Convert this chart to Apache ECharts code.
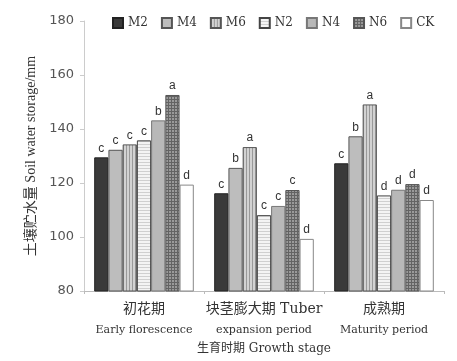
<!DOCTYPE html>
<html><head><meta charset="utf-8">
<script src="https://cdn.jsdelivr.net/npm/echarts@6/dist/echarts.min.js"></script>
<style>html,body{margin:0;padding:0;background:#fff}#c{width:457px;height:361px}</style>
</head><body><div id="c"></div>
<script>
const categories = ['初花期|Early florescence', '块茎膨大期 Tuber|expansion period', '成熟期|Maturity period'];
const seriesNames = ['M2', 'M4', 'M6', 'N2', 'N4', 'N6', 'CK'];
const M2 = [129.5, 116.2, 127.3];
const M4 = [132.3, 125.6, 137.3];
const M6 = [134.3, 133.3, 149.1];
const N2 = [135.8, 108.1, 115.4];
const N4 = [143.2, 111.5, 117.5];
const N6 = [152.6, 117.4, 119.6];
const CK = [119.4, 99.3, 113.7];
const letters = {
  M2: ['c', 'c', 'c'], M4: ['c', 'b', 'b'], M6: ['c', 'a', 'a'], N2: ['c', 'c', 'd'],
  N4: ['b', 'c', 'd'], N6: ['a', 'c', 'd'], CK: ['d', 'd', 'd']
};
const yTicks = [80, 100, 120, 140, 160, 180];
const values = { M2, M4, M6, N2, N4, N6, CK };

function pattern(bg, fg, kind) {
  const c = document.createElement('canvas');
  c.width = 3; c.height = 3;
  const g = c.getContext('2d');
  g.fillStyle = bg; g.fillRect(0, 0, 3, 3);
  g.fillStyle = fg;
  if (kind === 'v' || kind === 'grid') g.fillRect(0, 0, 1, 3);
  if (kind === 'h' || kind === 'grid') g.fillRect(0, 0, 3, 1);
  return { image: c, repeat: 'repeat' };
}
const styles = {
  M2: { color: '#3a3a3a', borderColor: '#222' },
  M4: { color: '#bdbdbd', borderColor: '#555' },
  M6: { color: pattern('#d2d2d2', '#999999', 'v'), borderColor: '#555' },
  N2: { color: pattern('#f4f4f4', '#d0d0d0', 'h'), borderColor: '#444' },
  N4: { color: '#b8b8b8', borderColor: '#777' },
  N6: { color: pattern('#9a9a9a', '#636363', 'grid'), borderColor: '#555' },
  CK: { color: '#ffffff', borderColor: '#888' }
};

const chart = echarts.init(document.getElementById('c'));
chart.setOption({
  animation: false,
  backgroundColor: '#fff',
  grid: { left: 84, right: 13, top: 21, bottom: 70 },
  legend: {
    top: 12, left: 107, width: 345, itemWidth: 10, itemHeight: 10, itemGap: 13,
    icon: 'rect',
    textStyle: { fontFamily: 'DejaVu Serif', fontSize: 12, color: '#333' },
    data: seriesNames
  },
  xAxis: {
    type: 'category', data: categories,
    name: '生育时期 Growth stage', nameLocation: 'middle', nameGap: 52,
    nameTextStyle: { fontFamily: 'DejaVu Serif, Noto Sans CJK SC', fontSize: 12, color: '#333' },
    axisLine: { lineStyle: { color: '#bbb' } },
    axisTick: { show: true, alignWithLabel: false, inside: false, length: 3, lineStyle: { color: '#bbb' } },
    axisLabel: {
      margin: 8, interval: 0,
      formatter: v => { const p = v.split('|'); return '{a|' + p[0] + '}\n{b|' + p[1] + '}'; },
      rich: {
        a: { fontFamily: 'DejaVu Serif, Noto Sans CJK SC', fontSize: 14, color: '#333', lineHeight: 21 },
        b: { fontFamily: 'DejaVu Serif', fontSize: 11, color: '#333', lineHeight: 21 }
      }
    }
  },
  yAxis: {
    type: 'value', min: 80, max: 180, interval: 20,
    name: '土壤贮水量 Soil water storage/mm', nameLocation: 'middle', nameGap: 46,
    nameTextStyle: { fontFamily: 'Liberation Serif, Noto Sans CJK SC', fontSize: 14, color: '#333' },
    axisLine: { show: true, lineStyle: { color: '#ccc' } },
    axisTick: { show: true, length: 4, lineStyle: { color: '#ccc' } },
    splitLine: { show: false },
    axisLabel: { fontFamily: 'DejaVu Sans', fontSize: 13, color: '#555', margin: 10 }
  },
  series: seriesNames.map(n => ({
    name: n, type: 'bar', barGap: '0%', barCategoryGap: '17%',
    data: values[n],
    itemStyle: { color: styles[n].color, borderColor: styles[n].borderColor, borderWidth: 1 },
    label: {
      show: true, position: 'top', distance: 3,
      fontFamily: 'Liberation Sans', fontSize: 12, color: '#333',
      formatter: p => letters[n][p.dataIndex]
    }
  }))
});
</script></body></html>
